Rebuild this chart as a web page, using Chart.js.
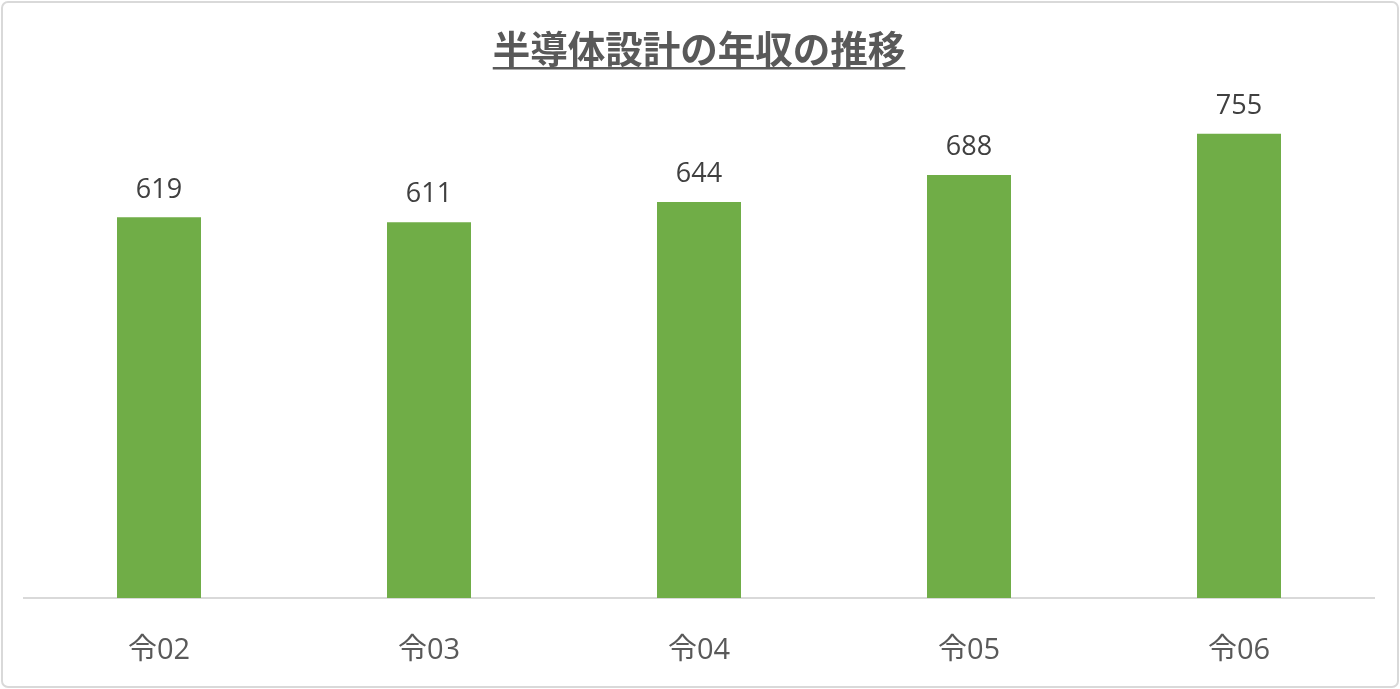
<!DOCTYPE html>
<html><head><meta charset="utf-8">
<script src="https://cdn.jsdelivr.net/npm/chart.js@4/dist/chart.umd.min.js"></script>
<style>html,body{margin:0;padding:0;background:#fff;}#wrap{width:1400px;height:689px;}</style>
</head><body><div id="wrap"><canvas id="c" width="1400" height="689"></canvas></div>
<script>
const categories = ['令02','令03','令04','令05','令06'];
const salaries = [619, 611, 644, 688, 755];
const chartTitle = '半導体設計の年収の推移';

const frame = {
  id: 'frame',
  beforeDraw(chart) {
    const c = chart.ctx;
    c.save();
    c.fillStyle = '#fff';
    c.fillRect(0, 0, chart.width, chart.height);
    c.strokeStyle = '#d9d9d9';
    c.lineWidth = 2;
    c.beginPath();
    c.roundRect(2, 2, chart.width - 4, chart.height - 4, 6);
    c.stroke();
    c.restore();
  }
};
const underline = {
  id: 'underline',
  afterDraw(chart) {
    const t = chart.titleBlock;
    const c = chart.ctx;
    c.save();
    c.font = "bold 37.5px 'Noto Sans CJK JP'";
    const w = c.measureText(chartTitle).width;
    const cx = (t.left + t.right) / 2;
    c.fillStyle = '#595959';
    c.fillRect(cx - w / 2, 67, w, 2.5);
    c.restore();
  }
};
const labels = {
  id: 'labels',
  afterDatasetsDraw(chart) {
    const c = chart.ctx;
    const meta = chart.getDatasetMeta(0);
    c.save();
    c.font = "27px 'Open Sans', 'Noto Sans CJK JP'";
    c.fillStyle = '#404040';
    c.textAlign = 'center';
    c.textBaseline = 'bottom';
    meta.data.forEach((bar, i) => {
      c.fillText(String(chart.data.datasets[0].data[i]), bar.x, bar.y - 14);
    });
    c.restore();
  }
};

new Chart(document.getElementById('c'), {
  type: 'bar',
  data: {
    labels: categories,
    datasets: [{
      data: salaries,
      backgroundColor: '#70ad47',
      borderWidth: 0,
      categoryPercentage: 1,
      barPercentage: 84 / 270
    }]
  },
  options: {
    responsive: false,
    animation: false,
    devicePixelRatio: 1,
    layout: { padding: { left: 24, right: 26, top: 0, bottom: 0 } },
    plugins: {
      legend: { display: false },
      tooltip: { enabled: false },
      title: {
        display: true,
        text: chartTitle,
        color: '#595959',
        font: { family: "'Noto Sans CJK JP'", size: 37.5, weight: 'bold', lineHeight: 1.2 },
        padding: { top: 26, bottom: 35 }
      }
    },
    scales: {
      x: {
        grid: { display: false, drawTicks: false },
        border: { display: true, color: '#d9d9d9', width: 2 },
        ticks: { color: '#595959', font: { family: "'Open Sans', 'Noto Sans CJK JP'", size: 29 }, padding: 35 },
        afterFit(s) { s.height = 91; }
      },
      y: {
        display: false,
        min: 0,
        max: 800
      }
    }
  },
  plugins: [frame, labels, underline]
});
</script></body></html>
